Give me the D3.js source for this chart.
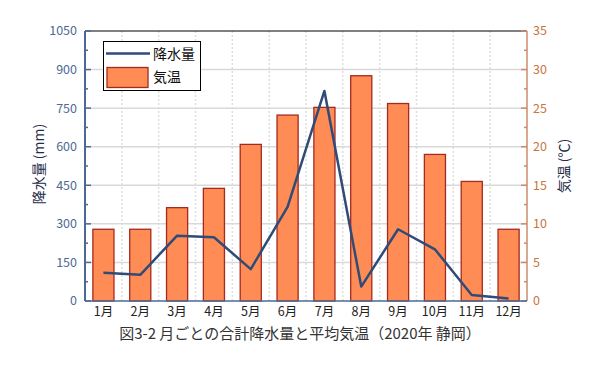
<!DOCTYPE html>
<html><head><meta charset="utf-8">
<script src="https://cdn.jsdelivr.net/npm/d3@7"></script>
<style>body{margin:0;background:#fff}svg{display:block;font-family:"Noto Sans CJK JP","Noto Sans",sans-serif}</style>
</head><body><svg id="c" width="600" height="368"></svg>
<script>
const months = ["1月","2月","3月","4月","5月","6月","7月","8月","9月","10月","11月","12月"];
const precipitation = [110,102,254,248,124,366,817,56,279,201,23,10];
const temperature = [9.3,9.3,12.1,14.6,20.3,24.1,25.1,29.2,25.6,19.0,15.5,9.3];
const leftTicks = [0,150,300,450,600,750,900,1050];
const rightTicks = [0,5,10,15,20,25,30,35];
const title = "図3-2 月ごとの合計降水量と平均気温（2020年 静岡）";

const svg = d3.select("#c");
const L = 85, R = 527, T = 31, B = 301;
const x = d3.scaleBand().domain(months).range([L, R]);
const yL = d3.scaleLinear().domain([0,1050]).range([B, T]);
const yR = d3.scaleLinear().domain([0,35]).range([B, T]);

// vertical dashed grid
svg.append("g").selectAll("line").data(months.slice(1)).join("line")
  .attr("x1", d => x(d)).attr("x2", d => x(d)).attr("y1", T).attr("y2", B)
  .attr("stroke", "#dedede").attr("stroke-width", 1.5).attr("stroke-dasharray", "2,2");
// horizontal grid
svg.append("g").selectAll("line").data(leftTicks.slice(1, -1)).join("line")
  .attr("x1", L).attr("x2", R).attr("y1", d => yL(d)).attr("y2", d => yL(d))
  .attr("stroke", "#d9d9d9").attr("stroke-width", 1.5);
// top border
svg.append("line").attr("x1", L).attr("x2", R).attr("y1", T).attr("y2", T).attr("stroke", "#000").attr("stroke-width", 1);

// bars
svg.append("g").selectAll("rect").data(months).join("rect")
  .attr("x", d => x(d) + x.bandwidth()*0.2 + 0.5)
  .attr("width", x.bandwidth()*0.6 - 1)
  .attr("y", (d,i) => yR(temperature[i]))
  .attr("height", (d,i) => B - yR(temperature[i]))
  .attr("fill", "#FF8C55").attr("stroke", "#A52A1E").attr("stroke-width", 1.3);

// line
svg.append("path").datum(precipitation)
  .attr("d", d3.line().x((d,i) => x(months[i]) + x.bandwidth()/2).y(d => yL(d)))
  .attr("fill", "none").attr("stroke", "#2F4B78").attr("stroke-width", 2.5).attr("stroke-linejoin", "round");

// left axis
const minorL = d3.range(75, 1050, 150);
const gl = svg.append("g");
gl.append("line").attr("x1", L).attr("x2", L).attr("y1", T).attr("y2", B).attr("stroke", "#4C6A94").attr("stroke-width", 2);
gl.selectAll(".mj").data(leftTicks).join("line").attr("class","mj")
  .attr("x1", L).attr("x2", L+6).attr("y1", d => yL(d)).attr("y2", d => yL(d)).attr("stroke", "#4C6A94").attr("stroke-width", 1.5);
gl.selectAll(".mn").data(minorL).join("line").attr("class","mn")
  .attr("x1", L).attr("x2", L+3).attr("y1", d => yL(d)).attr("y2", d => yL(d)).attr("stroke", "#4C6A94").attr("stroke-width", 1.5);
gl.selectAll("text").data(leftTicks).join("text")
  .attr("x", 77).attr("y", d => yL(d)).attr("dy", "0.35em").attr("text-anchor", "end")
  .attr("font-size", 12.5).attr("fill", "#4C6A94").text(d => d);

// right axis
const minorR = d3.range(2.5, 35, 5);
const gr = svg.append("g");
gr.append("line").attr("x1", R).attr("x2", R).attr("y1", T).attr("y2", B).attr("stroke", "#D9A88E").attr("stroke-width", 2);
gr.selectAll(".mj").data(rightTicks).join("line").attr("class","mj")
  .attr("x1", R-6).attr("x2", R).attr("y1", d => yR(d)).attr("y2", d => yR(d)).attr("stroke", "#C98A6A").attr("stroke-width", 1.5);
gr.selectAll(".mn").data(minorR).join("line").attr("class","mn")
  .attr("x1", R-3).attr("x2", R).attr("y1", d => yR(d)).attr("y2", d => yR(d)).attr("stroke", "#C98A6A").attr("stroke-width", 1.5);
gr.selectAll("text").data(rightTicks).join("text")
  .attr("x", 533).attr("y", d => yR(d)).attr("dy", "0.35em").attr("text-anchor", "start")
  .attr("font-size", 12.5).attr("fill", "#C8743E").text(d => d);

// bottom axis
svg.append("line").attr("x1", L).attr("x2", R).attr("y1", B).attr("y2", B).attr("stroke", "#4C6A94").attr("stroke-width", 1.5);
svg.append("g").selectAll("text").data(months).join("text")
  .attr("x", d => x(d) + x.bandwidth()/2).attr("y", 312).attr("dy", "0.35em").attr("text-anchor", "middle")
  .attr("font-size", 12.5).attr("fill", "#222").text(d => d);

// axis titles
svg.append("text").attr("transform", "translate(39,164) rotate(-90)").attr("text-anchor", "middle").attr("dy", "0.35em")
  .attr("font-size", 14).attr("fill", "#1F2D4A").text("降水量 (mm)");
svg.append("text").attr("transform", "translate(564,166) rotate(-90)").attr("text-anchor", "middle").attr("dy", "0.35em")
  .attr("font-size", 14).attr("fill", "#1F2D4A").text("気温 (℃)");

// title
svg.append("text").attr("x", 300).attr("y", 334).attr("dy", "0.35em").attr("text-anchor", "middle")
  .attr("font-size", 15).attr("fill", "#333").text(title);

// legend
const lg = svg.append("g");
lg.append("rect").attr("x", 103.5).attr("y", 41.5).attr("width", 97).attr("height", 49).attr("fill", "#fff").attr("stroke", "#000").attr("stroke-width", 1);
lg.append("line").attr("x1", 106).attr("x2", 150).attr("y1", 53.5).attr("y2", 53.5).attr("stroke", "#2F4B78").attr("stroke-width", 2.5);
lg.append("rect").attr("x", 107).attr("y", 67.5).attr("width", 41).attr("height", 20).attr("fill", "#FF8C55").attr("stroke", "#A52A1E").attr("stroke-width", 1.3);
lg.append("text").attr("x", 153).attr("y", 54).attr("dy", "0.35em").attr("font-size", 14).attr("fill", "#111").text("降水量");
lg.append("text").attr("x", 153).attr("y", 77).attr("dy", "0.35em").attr("font-size", 14).attr("fill", "#111").text("気温");
</script></body></html>
